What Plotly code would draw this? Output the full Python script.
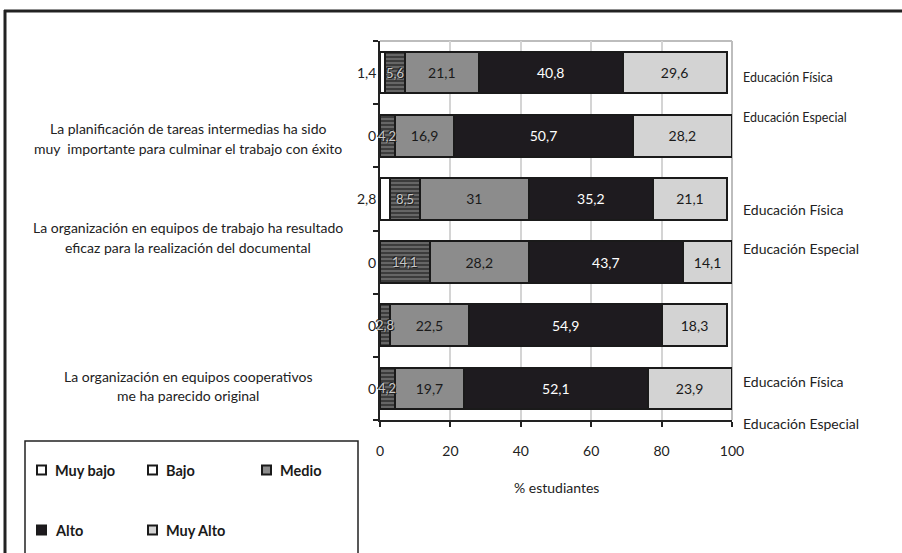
import plotly.graph_objects as go

# ---------------- data ----------------
rows = [0, 1, 2, 3, 4, 5]
series_names = ["Muy bajo", "Bajo", "Medio", "Alto", "Muy Alto"]
muy_bajo = [1.4, 0, 2.8, 0, 0, 0]
bajo = [5.6, 4.2, 8.5, 14.1, 2.8, 4.2]
medio = [21.1, 16.9, 31, 28.2, 22.5, 19.7]
alto = [40.8, 50.7, 35.2, 43.7, 54.9, 52.1]
muy_alto = [29.6, 28.2, 21.1, 14.1, 18.3, 23.9]

questions = [
    ["La planificación de tareas intermedias ha sido",
     "muy&nbsp; importante para culminar el trabajo con éxito"],
    ["La organización en equipos de trabajo ha resultado",
     "eficaz para la realización del documental"],
    ["La organización en equipos cooperativos",
     "me ha parecido original"],
]
group_labels = ["Educación Física", "Educación Especial"] * 3
x_ticks = [0, 20, 40, 60, 80, 100]
x_title = "% estudiantes"

# ---------------- layout geometry ----------------
W, H = 902, 553
L, R, T, B = 380, 732, 41, 420  # plot area pixels


def px(x):
    return (x - L) / (R - L)


def py(y):
    return (B - y) / (B - T)


FONT = "Lato, 'Open Sans', sans-serif"
DARK = "#1e1b1f"


def fmt(v):
    return ("%g" % v).replace(".", ",")


fig = go.Figure()

styles = [
    dict(color="#ffffff"),
    dict(color="#3c3c3c", pattern=dict(shape="-", fgcolor="#9a9a9a", bgcolor="#3c3c3c", size=4, solidity=0.45)),
    dict(color="#8c8c8c"),
    dict(color=DARK),
    dict(color="#d3d3d3"),
]
text_colors = [None, None, "#1a1a1a", "#ffffff", "#1a1a1a"]
all_vals = [muy_bajo, bajo, medio, alto, muy_alto]

for i, (name, vals) in enumerate(zip(series_names, all_vals)):
    marker = dict(styles[i])
    marker["line"] = dict(color="#1a1a1a", width=2)
    has_text = text_colors[i] is not None
    fig.add_trace(go.Bar(
        name=name,
        x=vals,
        y=rows,
        orientation="h",
        width=0.66,
        marker=marker,
        text=[fmt(v) for v in vals] if has_text else None,
        textposition="inside" if has_text else "none",
        insidetextanchor="middle",
        textangle=0,
        constraintext="none",
        textfont=dict(family=FONT, size=14, color=text_colors[i] or "#000"),
        showlegend=False,
        hoverinfo="x+name",
    ))

annotations = []
# Muy bajo values to the left of the axis
for r, v in zip(rows, muy_bajo):
    annotations.append(dict(x=0, y=r, xref="x", yref="y", text=fmt(v), showarrow=False,
                            xanchor="right", yanchor="middle", xshift=-2,
                            font=dict(family=FONT, size=14, color="#222")))

# Bajo values (light text centred on the segment, allowed to overflow)
for r, mb, b in zip(rows, muy_bajo, bajo):
    annotations.append(dict(x=mb + b / 2, y=r, xref="x", yref="y", text=fmt(b), showarrow=False,
                            xanchor="center", yanchor="middle",
                            font=dict(family=FONT, size=13, color="#c8c8c8",
                                      shadow="1px 1px 0px #222, -1px -1px 0px #222")))

# question texts (one annotation per line)
q_y = [(128, 148), (227, 247), (376, 395)]
for lines, ys in zip(questions, q_y):
    for line, yy in zip(lines, ys):
        annotations.append(dict(x=px(188), y=py(yy), xref="paper", yref="paper", text=line,
                                showarrow=False, xanchor="center", yanchor="middle", align="center",
                                font=dict(family=FONT, size=14, color="#222")))

# group labels on right
g_y = [77, 117, 209, 248, 381, 423]
g_size = [12.5, 12.5, 14, 14, 14, 14]
for g, yy, fs in zip(group_labels, g_y, g_size):
    annotations.append(dict(x=px(741), y=py(yy), xref="paper", yref="paper", text=g,
                            showarrow=False, xanchor="left", yanchor="middle",
                            font=dict(family=FONT, size=fs, color="#222")))

# x axis title
annotations.append(dict(x=0.5, y=py(487), xref="paper", yref="paper", text=x_title, showarrow=False,
                        xanchor="center", yanchor="middle", font=dict(family=FONT, size=14, color="#222")))

shapes = []
# outer frame
shapes.append(dict(type="line", xref="paper", yref="paper", x0=px(4), x1=px(905), y0=py(11), y1=py(11),
                   line=dict(color="#222", width=3)))
shapes.append(dict(type="line", xref="paper", yref="paper", x0=px(5), x1=px(5), y0=py(10), y1=py(560),
                   line=dict(color="#222", width=3)))
# plot area top/right borders
shapes.append(dict(type="line", xref="paper", yref="paper", x0=0, x1=1, y0=1, y1=1,
                   line=dict(color="#bdbdbd", width=2), layer="below"))
shapes.append(dict(type="line", xref="paper", yref="paper", x0=1, x1=1, y0=0, y1=1,
                   line=dict(color="#bdbdbd", width=2), layer="below"))
# legend box
shapes.append(dict(type="rect", xref="paper", yref="paper", x0=px(25), x1=px(358), y0=py(441), y1=py(560),
                   line=dict(color="#222", width=1.5), fillcolor="rgba(0,0,0,0)"))

# manual legend
leg_pos = [(37, 470), (148, 470), (262, 470), (37, 530), (148, 530)]
leg_fill = ["#ffffff", "#ffffff", "#8c8c8c", DARK, "#d3d3d3"]
for name, (lx, ly), fc in zip(series_names, leg_pos, leg_fill):
    shapes.append(dict(type="rect", xref="paper", yref="paper", x0=px(lx), x1=px(lx + 9),
                       y0=py(ly - 4.5), y1=py(ly + 4.5), fillcolor=fc, line=dict(color="#1a1a1a", width=2)))
    annotations.append(dict(x=px(lx + 16), y=py(ly), xref="paper", yref="paper", text="<b>%s</b>" % name,
                            showarrow=False, xanchor="left", yanchor="middle",
                            font=dict(family=FONT, size=14.5, color="#1a1a1a")))

fig.update_layout(
    width=W, height=H,
    margin=dict(l=L, r=W - R, t=T, b=H - B, pad=0),
    barmode="stack",
    plot_bgcolor="#ffffff",
    paper_bgcolor="#ffffff",
    font=dict(family=FONT, size=13, color="#222"),
    showlegend=False,
    annotations=annotations,
    shapes=shapes,
)
fig.update_xaxes(range=[0, 100], tickvals=x_ticks, ticktext=[str(t) for t in x_ticks],
                 ticks="outside", ticklen=5, tickcolor="#222", tickwidth=1.5,
                 showline=True, linecolor="#222", linewidth=2, ticklabelstandoff=12,
                 showgrid=True, gridcolor="#d4d4d4", gridwidth=2, zeroline=False,
                 tickfont=dict(family=FONT, size=14, color="#222"), fixedrange=True)
fig.update_yaxes(range=[5.5, -0.5], tickvals=[-0.5, 0.5, 1.5, 2.5, 3.5, 4.5, 5.5],
                 showticklabels=False, ticks="outside", ticklen=5, tickcolor="#222", tickwidth=1.5,
                 showline=True, linecolor="#222", linewidth=2, showgrid=False, zeroline=False,
                 fixedrange=True)

fig.write_html("out.html")
